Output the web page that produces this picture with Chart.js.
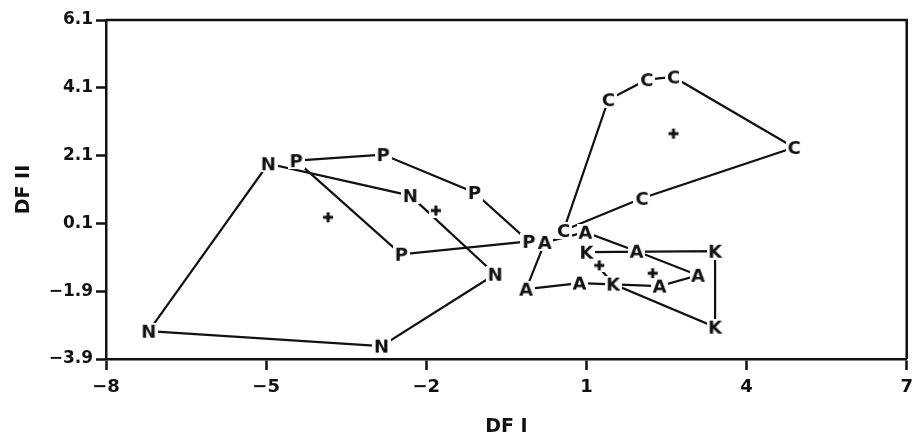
<!DOCTYPE html>
<html lang="en">
<head>
  <meta charset="UTF-8" />
  <title>DF I / DF II</title>
  <script src="https://cdn.jsdelivr.net/npm/chart.js"></script>
  <style>
    body { margin: 0; background: #fff; }
    .chart-box { position: relative; width: 920px; height: 441px; }
  </style>
</head>
<body>
  <div class="chart-box"><canvas id="dfChart"></canvas></div>

  <script>
    // Scores on the two discriminant functions, each group listed in hull order
    const nX = [-7.20, -4.96, -2.30, -0.71, -2.84];
    const nY = [-3.08, 1.86, 0.92, -1.40, -3.52];
    const pX = [-4.44, -2.81, -1.10, -0.08, -2.47];
    const pY = [1.95, 2.13, 1.01, -0.43, -0.81];
    const cX = [0.57, 1.41, 2.13, 2.63, 4.89, 2.04];
    const cY = [-0.11, 3.75, 4.34, 4.42, 2.34, 0.84];
    const aX = [0.22, 0.98, 1.94, 3.09, 2.37, 0.87, -0.13];
    const aY = [-0.46, -0.16, -0.72, -1.43, -1.75, -1.66, -1.84];
    const kX = [1.00, 3.41, 3.41, 1.50];
    const kY = [-0.75, -0.72, -2.96, -1.69];

    // Group centroids, drawn as +
    const centroidX = [-1.82, -3.84, 2.63, 2.24, 1.24];
    const centroidY = [0.48, 0.28, 2.75, -1.37, -1.14];

    const groupLetters = ['N', 'P', 'C', 'A', 'K'];
    const xTicks = [-8, -5, -2, 1, 4, 7];
    const yTicks = [-3.9, -1.9, 0.1, 2.1, 4.1, 6.1];

    const ink = '#111';
    const markFont = 'bold 18px "DejaVu Sans"';

    // Letter marker on a small white patch, so the hull lines stop short of it
    function letterMark(ch) {
      const probe = document.createElement('canvas').getContext('2d');
      probe.font = markFont;
      const w = Math.ceil(probe.measureText(ch).width) + 3;
      const h = 17;
      const c = document.createElement('canvas');
      c.width = w;
      c.height = h;
      const g = c.getContext('2d');
      g.fillStyle = '#fff';
      g.fillRect(0, 0, w, h);
      g.font = markFont;
      g.fillStyle = ink;
      g.textAlign = 'center';
      g.fillText(ch, w / 2, h / 2 + 6.6);
      return c;
    }

    function crossMark() {
      const c = document.createElement('canvas');
      c.width = 14;
      c.height = 14;
      const g = c.getContext('2d');
      g.fillStyle = '#fff';
      g.fillRect(0, 0, 14, 14);
      g.strokeStyle = ink;
      g.lineWidth = 3;
      g.beginPath();
      g.moveTo(2, 7); g.lineTo(12, 7);
      g.moveTo(7, 2); g.lineTo(7, 12);
      g.stroke();
      return c;
    }

    const toPoints = (xs, ys) => xs.map((x, i) => ({ x: x, y: ys[i] }));
    const groups = [[nX, nY], [pX, pY], [cX, cY], [aX, aY], [kX, kY]];

    // closed outline round each group
    const hullSets = groups.map(([xs, ys]) => {
      const pts = toPoints(xs, ys);
      return {
        data: pts.concat([pts[0]]),
        showLine: true,
        borderColor: ink,
        borderWidth: 2.2,
        pointRadius: 0,
        order: 2
      };
    });

    const letterSets = groups.map(([xs, ys], i) => ({
      data: toPoints(xs, ys),
      pointStyle: letterMark(groupLetters[i]),
      pointRadius: 8,
      order: 0
    }));

    const centroidSet = {
      data: toPoints(centroidX, centroidY),
      pointStyle: crossMark(),
      pointRadius: 7,
      order: 1
    };

    // top and right sides of the box
    const frame = {
      id: 'frame',
      afterDraw(chart) {
        const { ctx, chartArea: a } = chart;
        ctx.save();
        ctx.strokeStyle = ink;
        ctx.lineWidth = 2.5;
        ctx.beginPath();
        ctx.moveTo(a.left, a.top);
        ctx.lineTo(a.right, a.top);
        ctx.lineTo(a.right, a.bottom);
        ctx.stroke();
        ctx.restore();
      }
    };

    const tickFont = size => ({ family: 'DejaVu Sans', size: size, weight: 'bold' });
    const minus = s => s.replace('-', '\u2212');

    new Chart(document.getElementById('dfChart'), {
      type: 'scatter',
      data: { datasets: letterSets.concat([centroidSet], hullSets) },
      options: {
        responsive: true,
        maintainAspectRatio: false,
        animation: false,
        events: [],
        layout: { padding: { top: 20, right: 7, left: 0, bottom: 0 } },
        plugins: { legend: { display: false }, tooltip: { enabled: false } },
        scales: {
          x: {
            type: 'linear',
            min: -8,
            max: 7,
            afterBuildTicks: s => { s.ticks = xTicks.map(v => ({ value: v })); },
            afterFit: s => { s.height = 82; },
            grid: { drawOnChartArea: false, tickLength: 11, tickWidth: 2.5, tickColor: ink },
            border: { color: ink, width: 2.5 },
            ticks: { color: ink, font: tickFont(18), padding: 7, callback: v => minus(String(v)) },
            title: { display: true, text: 'DF I', color: ink, font: tickFont(19), padding: { bottom: 3 } }
          },
          y: {
            type: 'linear',
            min: -3.9,
            max: 6.1,
            afterBuildTicks: s => { s.ticks = yTicks.map(v => ({ value: v })); },
            afterFit: s => { s.width = 106; },
            grid: { drawOnChartArea: false, tickLength: 10, tickWidth: 2.5, tickColor: ink },
            border: { color: ink, width: 2.5 },
            ticks: { color: ink, font: tickFont(17), padding: 3, callback: v => minus(v.toFixed(1)) },
            title: { display: true, text: 'DF II', color: ink, font: tickFont(19), padding: { top: 13 } }
          }
        }
      },
      plugins: [frame]
    });
  </script>
</body>
</html>
